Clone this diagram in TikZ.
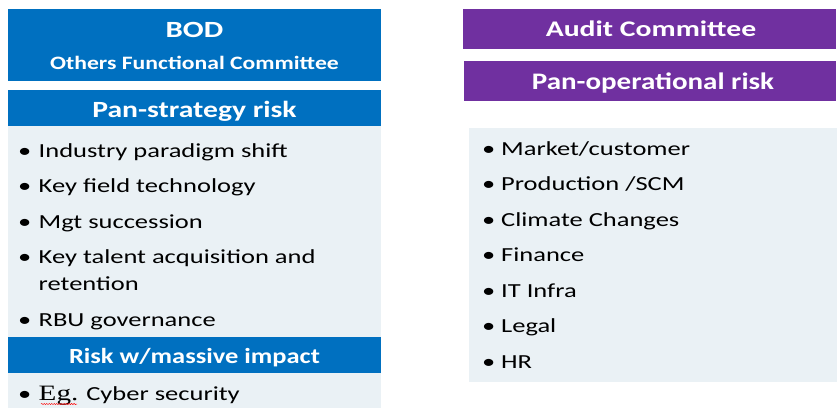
\documentclass[tikz,border=0pt]{standalone}
\usepackage{fontspec}
\setmainfont{Carlito}[FakeStretch=1.33]
\newfontfamily\egfont{Liberation Serif}[FakeStretch=1.33]
\usetikzlibrary{decorations.pathmorphing}

\definecolor{bodblue}{RGB}{0,112,192}
\definecolor{auditpurple}{RGB}{112,48,160}
\definecolor{panelgrey}{RGB}{234,241,245}

\tikzset{
  headtxt/.style={anchor=base, inner sep=0pt, text=white, font=\bfseries},
  itemtxt/.style={anchor=base west, inner sep=0pt, font=\fontsize{20}{20}\selectfont},
}
\newcommand{\fsz}[1]{\fontsize{#1}{#1}\selectfont}
\newcommand{\narrow}[2]{\scalebox{#1}[1]{#2}}
\newcommand{\itembul}{\makebox[20.5bp][l]{\textbullet}}

\begin{document}
\begin{tikzpicture}[x=1bp,y=1bp,yscale=-1]
\useasboundingbox (0,0) rectangle (837,409);

% left column: board and committees
\fill [bodblue] (8,9) rectangle (381,81);
\fill [bodblue] (8,90) rectangle (381,126);
\fill [panelgrey] (8,126) rectangle (381,337);
\fill [bodblue] (8,337) rectangle (381,373);
\fill [panelgrey] (8,373) rectangle (381,408);

\node (bod) [headtxt, font=\bfseries\fsz{23.3}] at (194.5,37.7) {BOD};
\node (others) [headtxt, font=\bfseries\fsz{19}] at (194.5,69) {\narrow{0.94}{Others Functional Committee}};
\node (panstrat) [headtxt, font=\bfseries\fsz{23.3}] at (194.5,117.3) {\narrow{0.96}{Pan-strategy risk}};
\node (massive) [headtxt, font=\bfseries\fsz{21.7}] at (194.5,363.7) {\narrow{0.92}{Risk w/massive impact}};

\node (industry) [itemtxt] at (18,157) {\itembul Industry paradigm shift};
\node (keyfield) [itemtxt] at (18,192.5) {\itembul Key field technology};
\node (mgt) [itemtxt] at (18,228) {\itembul Mgt succession};
\node (talent) [itemtxt] at (18,263.5) {\itembul Key talent acquisition and};
\node (retention) [itemtxt] at (38.5,290) {retention};
\node (rbu) [itemtxt] at (18,326) {\itembul RBU governance};
\node (cyber) [itemtxt] at (18,400) {\itembul{\egfont\fsz{22}Eg.} Cyber security};
\draw [red, line width=0.5, decorate, decoration={snake, amplitude=0.6, segment length=2.5}]
  (41,404) -- (77,404);

% right column: audit committee
\fill [auditpurple] (463,9) rectangle (836,49);
\fill [auditpurple] (464,61) rectangle (836,101);
\fill [panelgrey] (469,128) rectangle (837,382);

\node (audit) [headtxt, font=\bfseries\fsz{22.4}] at (651,36.7) {Audit Committee};
\node (panoper) [headtxt, font=\bfseries\fsz{23.8}] at (653,89.3) {\narrow{0.92}{Pan-operational risk}};

\foreach \txt [count=\i from 0] in {Market/customer, Production /SCM, Climate Changes,
    Finance, IT Infra, Legal, HR}
  \node (op\i) [itemtxt] at (482,155+35.5*\i) {\makebox[19bp][l]{\textbullet}\txt};
\end{tikzpicture}
\end{document}
